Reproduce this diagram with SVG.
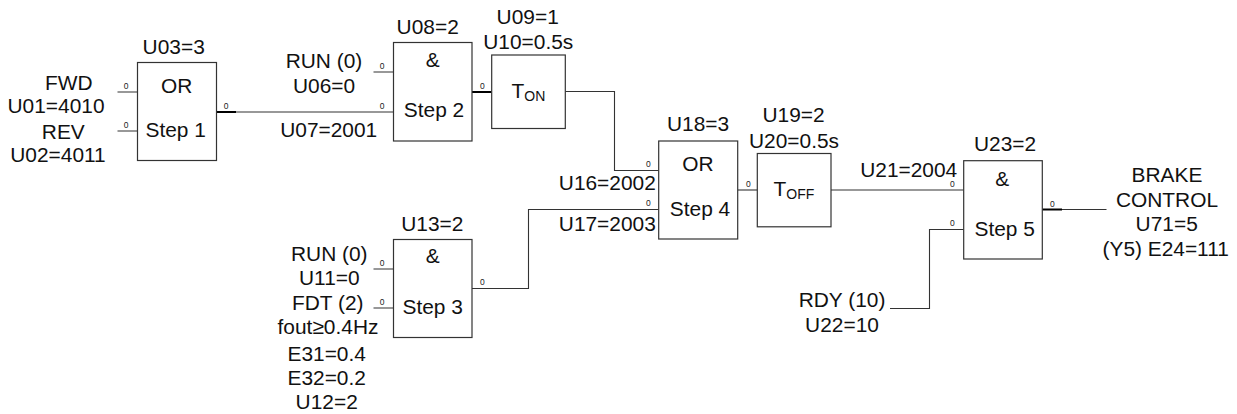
<svg xmlns="http://www.w3.org/2000/svg" width="1237" height="414" viewBox="0 0 1237 414">
<style>
text{font-family:"Liberation Sans",Arial,sans-serif;font-size:20.9px;fill:#111;text-anchor:middle}
text.o{font-size:8.5px;fill:#222}
text.s{text-anchor:start}
tspan.sub{font-size:14px}
rect{fill:#fff;stroke:#333;stroke-width:1.2}
.c{fill:none;stroke:#333;stroke-width:1.1}
.t{fill:none;stroke:#000;stroke-width:2}
</style>
<rect x="0" y="0" width="1237" height="414" style="fill:#fff;stroke:none"/>
<g id="connectors">
<path class="c" d="M117.5 92H137.5M117.5 131H137.5"/>
<path class="c" d="M216.5 112H393.5M373.5 72H393.5"/>
<path class="t" d="M216.5 112H236"/>
<path class="t" d="M472 92H491.7"/>
<path class="c" d="M565.3 91.5H614.5V170.5H658.7"/>
<path class="c" d="M472 288.5H528.5V209.5H658.7"/>
<path class="c" d="M737.7 190H757.3"/>
<path class="c" d="M831 190H963.7"/>
<path class="c" d="M890 308.5H929.5V229.5H963.7"/>
<path class="c" d="M1042.3 209.5H1106.5"/>
<path class="t" d="M1042.3 209.5H1062"/>
<path class="c" d="M373.5 269H393.5M373.5 308H393.5"/>
</g>
<g id="labels-in">
<text x="68.7" y="90">FWD</text>
<text x="56" y="112.7">U01=4010</text>
<text x="63.3" y="139.3">REV</text>
<text x="58" y="161.7">U02=4011</text>
<text x="324" y="68.3">RUN (0)</text>
<text x="324" y="92.7">U06=0</text>
<text x="328.7" y="136.7">U07=2001</text>
<text x="607.3" y="190">U16=2002</text>
<text x="607.3" y="231.3">U17=2003</text>
<text x="908.7" y="177.3">U21=2004</text>
<text x="842" y="306.7">RDY (10)</text>
<text x="842" y="332">U22=10</text>
</g>
<g id="labels-u13">
<text x="329.3" y="260.7">RUN (0)</text>
<text x="329.3" y="285.3">U11=0</text>
<text x="327.7" y="310">FDT (2)</text>
<text x="328" y="334.3">fout≥0.4Hz</text>
<text x="326.7" y="360.7">E31=0.4</text>
<text x="326.7" y="385">E32=0.2</text>
<text x="326.7" y="409.3">U12=2</text>
</g>
<g id="output-brake">
<text x="1167" y="181.7">BRAKE</text>
<text x="1167" y="206.7">CONTROL</text>
<text x="1166.7" y="231">U71=5</text>
<text x="1165.7" y="255.7">(Y5) E24=111</text>
</g>
<g id="step1">
<rect x="137.5" y="62.5" width="79" height="98"/>
<text x="173.7" y="53.7">U03=3</text>
<text x="176.7" y="92.7">OR</text>
<text x="175.7" y="136.7">Step 1</text>
<text class="o" x="126" y="89">0</text>
<text class="o" x="126" y="128">0</text>
<text class="o" x="226" y="108.7">0</text>
</g>
<g id="step2">
<rect x="393.5" y="42.5" width="78.5" height="98.5"/>
<text x="427.7" y="33.5">U08=2</text>
<text x="432.7" y="66.7">&amp;</text>
<text x="434" y="116.7">Step 2</text>
<text class="o" x="382" y="69">0</text>
<text class="o" x="382" y="108.7">0</text>
<text class="o" x="482.3" y="88.7">0</text>
</g>
<g id="ton">
<rect x="491.7" y="55" width="73.6" height="73.5"/>
<text x="527.7" y="23.7">U09=1</text>
<text x="528.3" y="49">U10=0.5s</text>
<text class="s" x="511.5" y="98.3">T<tspan class="sub" dy="2.8">ON</tspan></text>
</g>
<g id="step3">
<rect x="393.5" y="239.5" width="78.5" height="98"/>
<text x="432.3" y="231">U13=2</text>
<text x="432.7" y="263.3">&amp;</text>
<text x="432.7" y="314">Step 3</text>
<text class="o" x="382" y="265.7">0</text>
<text class="o" x="382" y="305">0</text>
<text class="o" x="482.3" y="285">0</text>
</g>
<g id="step4">
<rect x="658.7" y="141" width="79" height="98"/>
<text x="698" y="130.7">U18=3</text>
<text x="698" y="171">OR</text>
<text x="700" y="216">Step 4</text>
<text class="o" x="648.3" y="166.7">0</text>
<text class="o" x="648.3" y="206.3">0</text>
<text class="o" x="748.3" y="186.5">0</text>
</g>
<g id="toff">
<rect x="757.3" y="153.5" width="73.7" height="73.3"/>
<text x="793.5" y="121.7">U19=2</text>
<text x="794" y="147.7">U20=0.5s</text>
<text class="s" x="773.5" y="196.3">T<tspan class="sub" dy="2.8">OFF</tspan></text>
</g>
<g id="step5">
<rect x="963.7" y="160.7" width="78.6" height="98.3"/>
<text x="1005" y="150.7">U23=2</text>
<text x="1002.3" y="185.7">&amp;</text>
<text x="1004.7" y="235.7">Step 5</text>
<text class="o" x="952.3" y="186.7">0</text>
<text class="o" x="952.3" y="226.3">0</text>
<text class="o" x="1052.3" y="206.5">0</text>
</g>
</svg>
